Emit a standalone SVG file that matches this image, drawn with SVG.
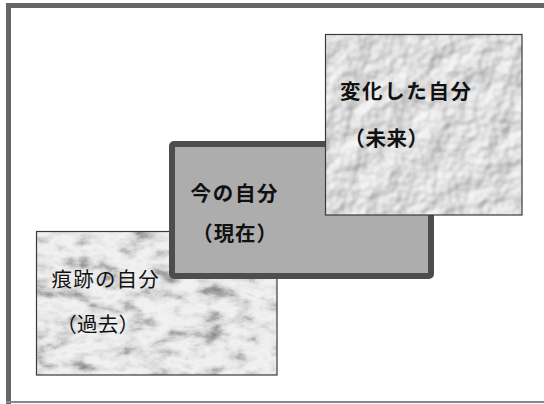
<svg xmlns="http://www.w3.org/2000/svg" width="544" height="404" viewBox="0 0 544 404">
  <style>
    .lbl { font-family: "Noto Sans CJK JP", "Noto Sans", sans-serif; font-size: 20.5px; fill: #111; }
    .b { font-weight: 700; }
    .r { font-weight: 400; }
    .thin { stroke: #3a3a3a; stroke-width: 1.2; }
  </style>
  <defs>
    <filter id="marble" x="0" y="0" width="100%" height="100%" color-interpolation-filters="sRGB">
      <feTurbulence type="fractalNoise" baseFrequency="0.04 0.07" numOctaves="5" seed="11" result="n"/>
      <feColorMatrix in="n" type="matrix" values="1 0 0 0 0  1 0 0 0 0  1 0 0 0 0  0 0 0 0 1" result="g"/>
      <feComponentTransfer in="g" result="m">
        <feFuncR type="table" tableValues="0.5 0.56 0.68 0.83 0.91 0.95 0.93 0.86 0.8"/>
        <feFuncG type="table" tableValues="0.5 0.56 0.68 0.83 0.91 0.95 0.93 0.86 0.8"/>
        <feFuncB type="table" tableValues="0.5 0.56 0.68 0.83 0.91 0.95 0.93 0.86 0.8"/>
      </feComponentTransfer>
      <feComposite in="m" in2="SourceGraphic" operator="in"/>
    </filter>
    <filter id="drops" x="0" y="0" width="100%" height="100%" color-interpolation-filters="sRGB">
      <feTurbulence type="fractalNoise" baseFrequency="0.04" numOctaves="3" seed="3" result="n"/>
      <feDiffuseLighting in="n" surfaceScale="5" diffuseConstant="1" lighting-color="#ffffff" result="l">
        <feDistantLight azimuth="225" elevation="50"/>
      </feDiffuseLighting>
      <feComponentTransfer in="l" result="c">
        <feFuncR type="linear" slope="0.42" intercept="0.55"/>
        <feFuncG type="linear" slope="0.42" intercept="0.55"/>
        <feFuncB type="linear" slope="0.42" intercept="0.55"/>
      </feComponentTransfer>
      <feComposite in="c" in2="SourceGraphic" operator="in"/>
    </filter>
  </defs>

  <rect width="544" height="404" fill="#ffffff"/>
  <g id="frame" fill="none" stroke-linecap="butt">
    <line x1="6" y1="5.5" x2="544" y2="5.5" stroke="#666666" stroke-width="5"/>
    <line x1="8.5" y1="3" x2="8.5" y2="404" stroke="#666666" stroke-width="5"/>
    <line x1="6" y1="402" x2="544" y2="402" stroke="#888888" stroke-width="2"/>
  </g>

  <g id="connectors"></g>

  <g id="past">
    <rect x="36" y="231" width="241" height="144" fill="#dddddd" filter="url(#marble)"/>
    <rect x="36.5" y="231.5" width="240.5" height="143.5" fill="none" class="thin"/>
    <text class="lbl r" x="51.5" y="287" letter-spacing="1.2">痕跡の自分</text>
    <text class="lbl r" x="56.3" y="332" letter-spacing="0.2">（過去）</text>
  </g>

  <g id="present">
    <rect x="172" y="144" width="259" height="132" rx="2" fill="#adadad" stroke="#4d4d4d" stroke-width="6"/>
    <text class="lbl b" x="190.5" y="200.5" letter-spacing="1.7">今の自分</text>
    <text class="lbl b" x="192.3" y="241" letter-spacing="0.9">（現在）</text>
  </g>

  <g id="future">
    <rect x="325" y="34" width="197" height="181" fill="#d4d4d4" filter="url(#drops)"/>
    <rect x="325.5" y="34.5" width="196.5" height="180.5" fill="none" class="thin"/>
    <text class="lbl b" x="340" y="99" letter-spacing="1.6">変化した自分</text>
    <text class="lbl b" x="344.3" y="146" letter-spacing="0.6">（未来）</text>
  </g>
</svg>
